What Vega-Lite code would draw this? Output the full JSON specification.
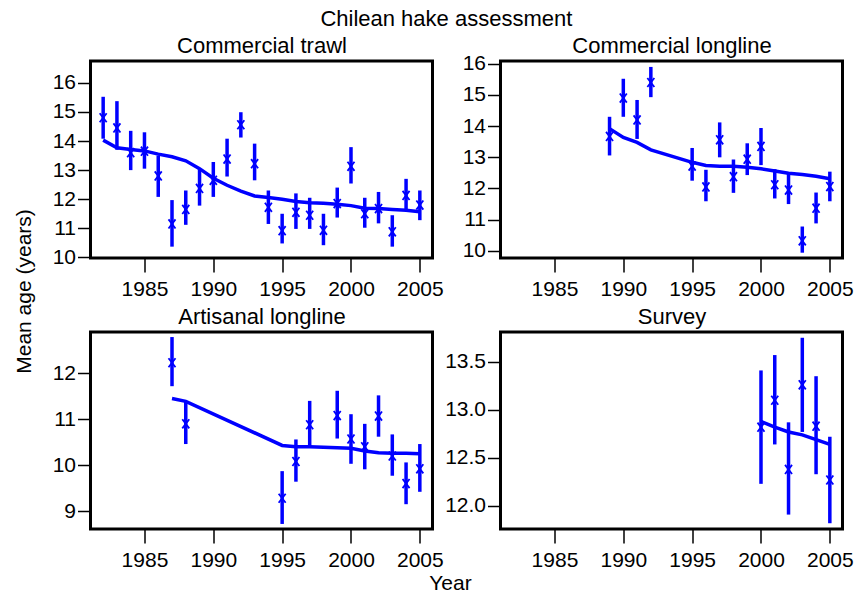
{
  "$schema": "https://vega.github.io/schema/vega-lite/v6.json",
  "padding": {"left": 11.5, "top": 8, "right": 2, "bottom": 2},
  "title": {"text": "Chilean hake assessment", "anchor": "middle", "fontSize": 22, "fontWeight": "normal", "font": "Liberation Sans", "color": "black", "offset": 2, "dx": 13},
  "columns": 2,
  "spacing": {"row": -94, "column": -31},
  "datasets": {
    "hake": [
      {"panel": "CT", "year": 1982, "obs": 14.8, "lo": 14.08, "hi": 15.52, "fit": 14.03},
      {"panel": "CT", "year": 1983, "obs": 14.45, "lo": 13.7, "hi": 15.37, "fit": 13.77},
      {"panel": "CT", "year": 1984, "obs": 13.6, "lo": 13.0, "hi": 14.35, "fit": 13.71},
      {"panel": "CT", "year": 1985, "obs": 13.65, "lo": 13.05, "hi": 14.3, "fit": 13.66},
      {"panel": "CT", "year": 1986, "obs": 12.8, "lo": 12.08, "hi": 13.5, "fit": 13.55},
      {"panel": "CT", "year": 1987, "obs": 11.15, "lo": 10.37, "hi": 11.97, "fit": 13.46},
      {"panel": "CT", "year": 1988, "obs": 11.65, "lo": 11.12, "hi": 12.3, "fit": 13.32},
      {"panel": "CT", "year": 1989, "obs": 12.37, "lo": 11.78, "hi": 13.03, "fit": 13.05},
      {"panel": "CT", "year": 1990, "obs": 12.65, "lo": 12.08, "hi": 13.28, "fit": 12.72},
      {"panel": "CT", "year": 1991, "obs": 13.38, "lo": 12.78, "hi": 14.08, "fit": 12.48},
      {"panel": "CT", "year": 1992, "obs": 14.56, "lo": 14.12, "hi": 14.99, "fit": 12.28},
      {"panel": "CT", "year": 1993, "obs": 13.22, "lo": 12.65, "hi": 13.91, "fit": 12.11},
      {"panel": "CT", "year": 1994, "obs": 11.72, "lo": 11.15, "hi": 12.3, "fit": 12.06},
      {"panel": "CT", "year": 1995, "obs": 10.92, "lo": 10.48, "hi": 11.5, "fit": 12.0},
      {"panel": "CT", "year": 1996, "obs": 11.55, "lo": 10.98, "hi": 12.2, "fit": 11.92},
      {"panel": "CT", "year": 1997, "obs": 11.45, "lo": 10.98, "hi": 12.05, "fit": 11.88},
      {"panel": "CT", "year": 1998, "obs": 10.93, "lo": 10.42, "hi": 11.5, "fit": 11.86},
      {"panel": "CT", "year": 1999, "obs": 11.85, "lo": 11.37, "hi": 12.4, "fit": 11.83},
      {"panel": "CT", "year": 2000, "obs": 13.13, "lo": 12.54, "hi": 13.79, "fit": 11.78},
      {"panel": "CT", "year": 2001, "obs": 11.5, "lo": 11.02, "hi": 12.05, "fit": 11.69},
      {"panel": "CT", "year": 2002, "obs": 11.68, "lo": 11.17, "hi": 12.25, "fit": 11.68},
      {"panel": "CT", "year": 2003, "obs": 10.88, "lo": 10.37, "hi": 11.45, "fit": 11.65},
      {"panel": "CT", "year": 2004, "obs": 12.13, "lo": 11.63, "hi": 12.7, "fit": 11.62},
      {"panel": "CT", "year": 2005, "obs": 11.8, "lo": 11.28, "hi": 12.3, "fit": 11.57},
      {"panel": "CL", "year": 1989, "obs": 13.67, "lo": 13.06, "hi": 14.3, "fit": 13.92},
      {"panel": "CL", "year": 1990, "obs": 14.9, "lo": 14.3, "hi": 15.52, "fit": 13.64},
      {"panel": "CL", "year": 1991, "obs": 14.2, "lo": 13.59, "hi": 14.84, "fit": 13.48},
      {"panel": "CL", "year": 1992, "obs": 15.4, "lo": 14.93, "hi": 15.9, "fit": 13.24},
      {"panel": "CL", "year": 1995, "obs": 12.72, "lo": 12.25, "hi": 13.3, "fit": 12.84},
      {"panel": "CL", "year": 1996, "obs": 12.05, "lo": 11.59, "hi": 12.6, "fit": 12.74},
      {"panel": "CL", "year": 1997, "obs": 13.56, "lo": 13.0, "hi": 14.12, "fit": 12.71},
      {"panel": "CL", "year": 1998, "obs": 12.38, "lo": 11.86, "hi": 12.93, "fit": 12.71},
      {"panel": "CL", "year": 1999, "obs": 12.94, "lo": 12.43, "hi": 13.45, "fit": 12.68},
      {"panel": "CL", "year": 2000, "obs": 13.35, "lo": 12.75, "hi": 13.94, "fit": 12.63},
      {"panel": "CL", "year": 2001, "obs": 12.12, "lo": 11.68, "hi": 12.62, "fit": 12.56},
      {"panel": "CL", "year": 2002, "obs": 11.95, "lo": 11.5, "hi": 12.47, "fit": 12.49},
      {"panel": "CL", "year": 2003, "obs": 10.32, "lo": 9.94, "hi": 10.78, "fit": 12.45},
      {"panel": "CL", "year": 2004, "obs": 11.37, "lo": 10.88, "hi": 11.87, "fit": 12.39},
      {"panel": "CL", "year": 2005, "obs": 12.06, "lo": 11.59, "hi": 12.54, "fit": 12.31},
      {"panel": "AL", "year": 1987, "obs": 12.23, "lo": 11.72, "hi": 12.79, "fit": 11.45},
      {"panel": "AL", "year": 1988, "obs": 10.9, "lo": 10.46, "hi": 11.4, "fit": 11.39},
      {"panel": "AL", "year": 1995, "obs": 9.28, "lo": 8.72, "hi": 9.87, "fit": 10.43},
      {"panel": "AL", "year": 1996, "obs": 10.08, "lo": 9.64, "hi": 10.56, "fit": 10.4},
      {"panel": "AL", "year": 1997, "obs": 10.88, "lo": 10.41, "hi": 11.4, "fit": 10.4},
      {"panel": "AL", "year": 1999, "obs": 11.08, "lo": 10.58, "hi": 11.62, "fit": 10.38},
      {"panel": "AL", "year": 2000, "obs": 10.57, "lo": 10.03, "hi": 11.11, "fit": 10.37},
      {"panel": "AL", "year": 2001, "obs": 10.4, "lo": 9.91, "hi": 10.9, "fit": 10.31},
      {"panel": "AL", "year": 2002, "obs": 11.07, "lo": 10.62, "hi": 11.52, "fit": 10.27},
      {"panel": "AL", "year": 2003, "obs": 10.2, "lo": 9.77, "hi": 10.67, "fit": 10.26},
      {"panel": "AL", "year": 2004, "obs": 9.6, "lo": 9.15, "hi": 10.06, "fit": 10.26},
      {"panel": "AL", "year": 2005, "obs": 9.92, "lo": 9.42, "hi": 10.46, "fit": 10.25},
      {"panel": "SV", "year": 2000, "obs": 12.82, "lo": 12.23, "hi": 13.41, "fit": 12.88},
      {"panel": "SV", "year": 2001, "obs": 13.1, "lo": 12.64, "hi": 13.57, "fit": 12.82},
      {"panel": "SV", "year": 2002, "obs": 12.38, "lo": 11.91, "hi": 12.87, "fit": 12.77},
      {"panel": "SV", "year": 2003, "obs": 13.26, "lo": 12.77, "hi": 13.75, "fit": 12.74},
      {"panel": "SV", "year": 2004, "obs": 12.83, "lo": 12.33, "hi": 13.35, "fit": 12.69},
      {"panel": "SV", "year": 2005, "obs": 12.27, "lo": 11.82, "hi": 12.72, "fit": 12.64}
    ]
  },
  "concat": [
    {
      "width": 342, "height": 197,
      "data": {"name": "hake"},
      "transform": [{"filter": "datum.panel === 'CT'"}],
      "resolve": {"axis": {"x": "independent"}},
      "layer": [
        {"mark": {"type": "line", "color": "#0000ff", "strokeWidth": 3.5},
         "encoding": {
           "x": {"field": "year", "type": "quantitative", "scale": {"domain": [1981.08, 2005.92], "nice": false, "zero": false}, "axis": {"orient": "bottom", "title": null, "values": [1985, 1990, 1995, 2000, 2005], "format": "d"}},
           "y": {"field": "fit", "type": "quantitative", "scale": {"domain": [9.98, 16.75], "nice": false, "zero": false}, "axis": {"values": [10, 11, 12, 13, 14, 15, 16], "title": null}}}},
        {"mark": {"type": "rule", "color": "#0000ff", "strokeWidth": 3.5},
         "encoding": {
           "x": {"field": "year", "type": "quantitative", "scale": {"domain": [1981.08, 2005.92], "nice": false, "zero": false}, "axis": null},
           "y": {"field": "lo", "type": "quantitative", "scale": {"domain": [9.98, 16.75], "nice": false, "zero": false}, "axis": {"values": [10, 11, 12, 13, 14, 15, 16], "title": null}}, "y2": {"field": "hi"}}},
        {"mark": {"type": "point", "shape": "M-1,-1.3L1,1.3M-1,1.3L1,-1.3", "filled": false, "color": "#0000ff", "strokeWidth": 1.8, "size": 49, "opacity": 1},
         "encoding": {
           "x": {"field": "year", "type": "quantitative", "scale": {"domain": [1981.08, 2005.92], "nice": false, "zero": false}, "axis": {"orient": "top", "labels": false, "ticks": false, "domain": false, "title": "Commercial trawl", "titlePadding": 8.5, "titleFontSize": 22, "titleBaseline": "alphabetic"}},
           "y": {"field": "obs", "type": "quantitative", "scale": {"domain": [9.98, 16.75], "nice": false, "zero": false}, "axis": {"values": [10, 11, 12, 13, 14, 15, 16], "title": null}}}}
      ]
    },
    {
      "width": 342, "height": 197,
      "data": {"name": "hake"},
      "transform": [{"filter": "datum.panel === 'CL'"}],
      "resolve": {"axis": {"x": "independent"}},
      "layer": [
        {"mark": {"type": "line", "color": "#0000ff", "strokeWidth": 3.5},
         "encoding": {
           "x": {"field": "year", "type": "quantitative", "scale": {"domain": [1981.08, 2005.92], "nice": false, "zero": false}, "axis": {"orient": "bottom", "title": null, "values": [1985, 1990, 1995, 2000, 2005], "format": "d"}},
           "y": {"field": "fit", "type": "quantitative", "scale": {"domain": [9.77, 16.09], "nice": false, "zero": false}, "axis": {"values": [10, 11, 12, 13, 14, 15, 16], "title": null}}}},
        {"mark": {"type": "rule", "color": "#0000ff", "strokeWidth": 3.5},
         "encoding": {
           "x": {"field": "year", "type": "quantitative", "scale": {"domain": [1981.08, 2005.92], "nice": false, "zero": false}, "axis": null},
           "y": {"field": "lo", "type": "quantitative", "scale": {"domain": [9.77, 16.09], "nice": false, "zero": false}, "axis": {"values": [10, 11, 12, 13, 14, 15, 16], "title": null}}, "y2": {"field": "hi"}}},
        {"mark": {"type": "point", "shape": "M-1,-1.3L1,1.3M-1,1.3L1,-1.3", "filled": false, "color": "#0000ff", "strokeWidth": 1.8, "size": 49, "opacity": 1},
         "encoding": {
           "x": {"field": "year", "type": "quantitative", "scale": {"domain": [1981.08, 2005.92], "nice": false, "zero": false}, "axis": {"orient": "top", "labels": false, "ticks": false, "domain": false, "title": "Commercial longline", "titlePadding": 8.5, "titleFontSize": 22, "titleBaseline": "alphabetic"}},
           "y": {"field": "obs", "type": "quantitative", "scale": {"domain": [9.77, 16.09], "nice": false, "zero": false}, "axis": {"values": [10, 11, 12, 13, 14, 15, 16], "title": null}}}}
      ]
    },
    {
      "width": 342, "height": 197,
      "data": {"name": "hake"},
      "transform": [{"filter": "datum.panel === 'AL'"}],
      "resolve": {"axis": {"x": "independent"}},
      "layer": [
        {"mark": {"type": "line", "color": "#0000ff", "strokeWidth": 3.5},
         "encoding": {
           "x": {"field": "year", "type": "quantitative", "scale": {"domain": [1981.08, 2005.92], "nice": false, "zero": false}, "axis": {"orient": "bottom", "title": "Year", "values": [1985, 1990, 1995, 2000, 2005], "format": "d", "titleX": 359.5, "titleY": 54, "titleAlign": "center", "titleBaseline": "middle"}},
           "y": {"field": "fit", "type": "quantitative", "scale": {"domain": [8.61, 12.9], "nice": false, "zero": false}, "axis": {"values": [9, 10, 11, 12], "title": "Mean age (years)", "titleX": -66, "titleY": -41, "titleAngle": -90, "titleAlign": "center", "titleBaseline": "middle"}}}},
        {"mark": {"type": "rule", "color": "#0000ff", "strokeWidth": 3.5},
         "encoding": {
           "x": {"field": "year", "type": "quantitative", "scale": {"domain": [1981.08, 2005.92], "nice": false, "zero": false}, "axis": null},
           "y": {"field": "lo", "type": "quantitative", "scale": {"domain": [8.61, 12.9], "nice": false, "zero": false}, "axis": {"values": [9, 10, 11, 12], "title": "Mean age (years)", "titleX": -66, "titleY": -41, "titleAngle": -90, "titleAlign": "center", "titleBaseline": "middle"}}, "y2": {"field": "hi"}}},
        {"mark": {"type": "point", "shape": "M-1,-1.3L1,1.3M-1,1.3L1,-1.3", "filled": false, "color": "#0000ff", "strokeWidth": 1.8, "size": 49, "opacity": 1},
         "encoding": {
           "x": {"field": "year", "type": "quantitative", "scale": {"domain": [1981.08, 2005.92], "nice": false, "zero": false}, "axis": {"orient": "top", "labels": false, "ticks": false, "domain": false, "title": "Artisanal longline", "titlePadding": 8.5, "titleFontSize": 22, "titleBaseline": "alphabetic"}},
           "y": {"field": "obs", "type": "quantitative", "scale": {"domain": [8.61, 12.9], "nice": false, "zero": false}, "axis": {"values": [9, 10, 11, 12], "title": "Mean age (years)", "titleX": -66, "titleY": -41, "titleAngle": -90, "titleAlign": "center", "titleBaseline": "middle"}}}}
      ]
    },
    {
      "width": 342, "height": 197,
      "data": {"name": "hake"},
      "transform": [{"filter": "datum.panel === 'SV'"}],
      "resolve": {"axis": {"x": "independent"}},
      "layer": [
        {"mark": {"type": "line", "color": "#0000ff", "strokeWidth": 3.5},
         "encoding": {
           "x": {"field": "year", "type": "quantitative", "scale": {"domain": [1981.08, 2005.92], "nice": false, "zero": false}, "axis": {"orient": "bottom", "title": null, "values": [1985, 1990, 1995, 2000, 2005], "format": "d"}},
           "y": {"field": "fit", "type": "quantitative", "scale": {"domain": [11.76, 13.81], "nice": false, "zero": false}, "axis": {"values": [12.0, 12.5, 13.0, 13.5], "format": ".1f", "title": null}}}},
        {"mark": {"type": "rule", "color": "#0000ff", "strokeWidth": 3.5},
         "encoding": {
           "x": {"field": "year", "type": "quantitative", "scale": {"domain": [1981.08, 2005.92], "nice": false, "zero": false}, "axis": null},
           "y": {"field": "lo", "type": "quantitative", "scale": {"domain": [11.76, 13.81], "nice": false, "zero": false}, "axis": {"values": [12.0, 12.5, 13.0, 13.5], "format": ".1f", "title": null}}, "y2": {"field": "hi"}}},
        {"mark": {"type": "point", "shape": "M-1,-1.3L1,1.3M-1,1.3L1,-1.3", "filled": false, "color": "#0000ff", "strokeWidth": 1.8, "size": 49, "opacity": 1},
         "encoding": {
           "x": {"field": "year", "type": "quantitative", "scale": {"domain": [1981.08, 2005.92], "nice": false, "zero": false}, "axis": {"orient": "top", "labels": false, "ticks": false, "domain": false, "title": "Survey", "titlePadding": 8.5, "titleFontSize": 22, "titleBaseline": "alphabetic"}},
           "y": {"field": "obs", "type": "quantitative", "scale": {"domain": [11.76, 13.81], "nice": false, "zero": false}, "axis": {"values": [12.0, 12.5, 13.0, 13.5], "format": ".1f", "title": null}}}}
      ]
    }
  ],
  "config": {
    "font": "Liberation Sans",
    "view": {"stroke": "black", "strokeWidth": 3},
    "title": {"font": "Liberation Sans", "fontSize": 22, "fontWeight": "normal", "color": "black"},
    "axis": {"labelFont": "Liberation Sans", "labelFontSize": 21, "labelColor": "black", "tickColor": "black", "tickWidth": 1.5, "domain": false, "grid": false, "labelFlush": false, "labelOverlap": false, "titleFont": "Liberation Sans", "titleFontSize": 21, "titleFontWeight": "normal", "titleColor": "black"},
    "axisX": {"tickSize": 14, "labelPadding": 6},
    "axisY": {"tickSize": 13, "labelPadding": 2}
  }
}
